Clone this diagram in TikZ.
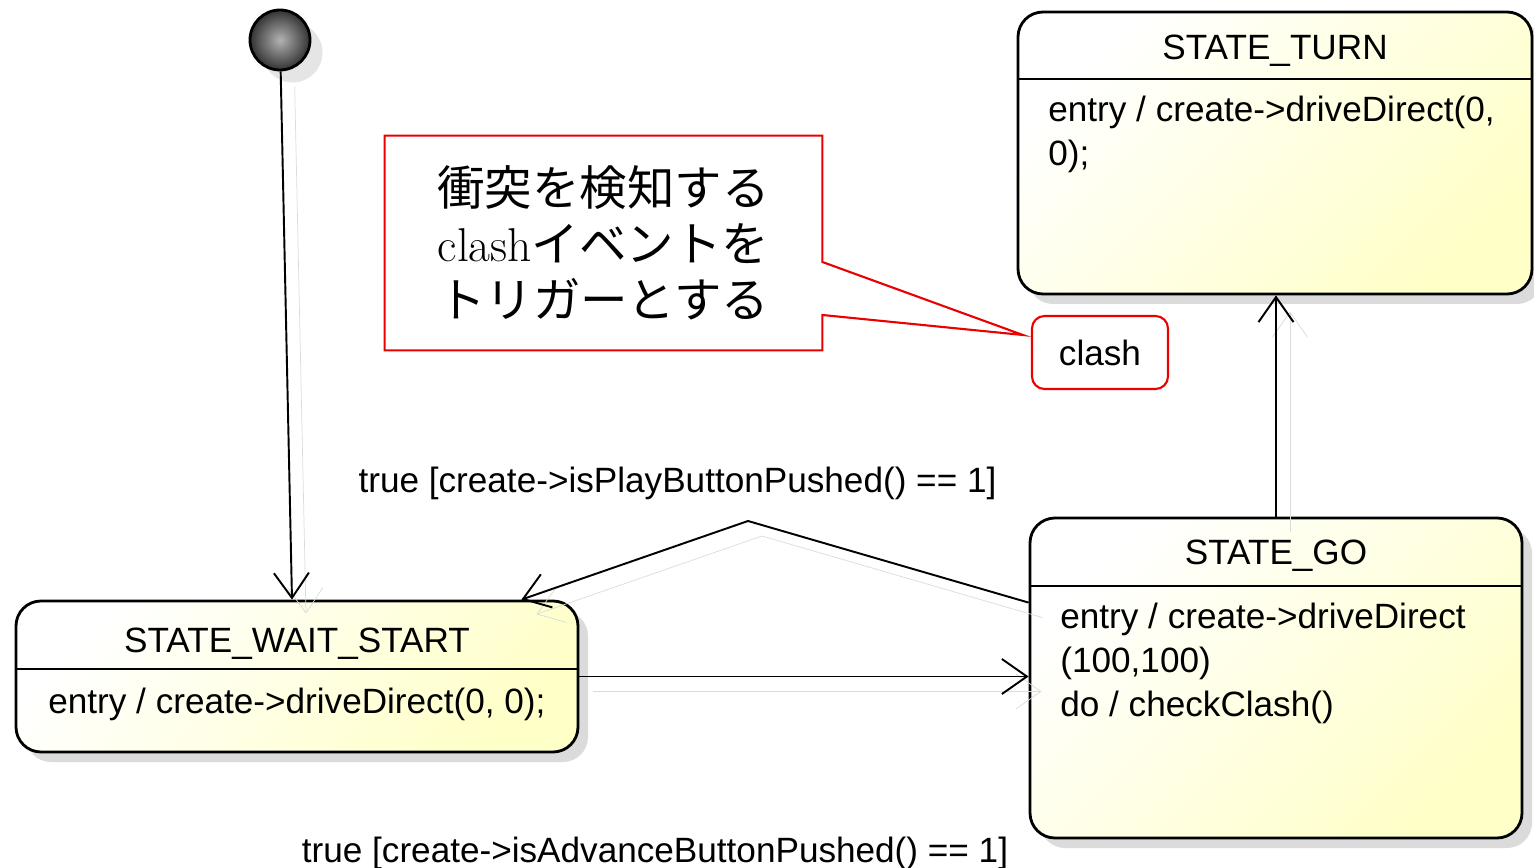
\documentclass[tikz,border=0pt]{standalone}
\usepackage{fontspec}
\setmainfont{Liberation Sans}
\newfontfamily\jpfont{Noto Sans CJK JP}
\newfontfamily\notelatin{Latin Modern Roman}
\usepackage{xcolor}
\usetikzlibrary{positioning,arrows.meta,shadows}
\definecolor{stateyel}{RGB}{255,255,200}
\definecolor{notered}{RGB}{235,0,0}

\begin{document}
\begin{tikzpicture}[
  state/.style={draw, rounded corners=0.5cm, line width=1.6pt, top color=white, bottom color=stateyel, shading angle=45,
    drop shadow={shadow xshift=0.2cm, shadow yshift=-0.2cm, fill=black!14, opacity=1}},
  stitle/.style={font=\fontsize{20}{24}\selectfont, anchor=base, inner sep=0pt},
  sbody/.style={font=\fontsize{20}{25}\selectfont, anchor=base west, inner sep=0pt, align=left},
  initial/.style={circle, draw, line width=1.6pt, minimum size=1.2cm, inner sep=0pt, inner color=black!30, outer color=black!80,
    drop shadow={shadow xshift=0.25cm, shadow yshift=-0.25cm, fill=black!10, opacity=1}},
  trans/.style={line width=1.1pt, -{Straight Barb[length=5mm,width=7mm]},
    preaction={draw=black!14, transform canvas={xshift=0.28cm, yshift=-0.3cm}}},
  tlabel/.style={font=\fontsize{20}{24}\selectfont, anchor=base, inner sep=0pt},
  evbox/.style={draw=notered, rounded corners=0.25cm, line width=1.2pt, minimum width=2.72cm, minimum height=1.46cm,
    font=\fontsize{20}{24}\selectfont},
  notebox/.style={minimum width=8.74cm, minimum height=4.28cm, align=center, inner sep=0pt,
    font=\fontsize{27}{32}\selectfont}
]
  \useasboundingbox (0,0) rectangle (30.68,-17.36);

  % states
  \node[state, minimum width=10.28cm, minimum height=5.64cm] (turn) at (25.5,-3.06) {};
  \node[state, minimum width=9.84cm, minimum height=6.4cm] (go) at (25.52,-13.56) {};
  \node[state, minimum width=11.24cm, minimum height=3.02cm] (wait) at (5.94,-13.53) {};
  \node[initial] (init) at (5.6,-0.8) {};

  % header lines
  \draw[line width=1.3pt] (turn.west |- 0,-1.58) -- (turn.east |- 0,-1.58);
  \draw[line width=1.3pt] (go.west |- 0,-11.72) -- (go.east |- 0,-11.72);
  \draw[line width=1.3pt] (wait.west |- 0,-13.38) -- (wait.east |- 0,-13.38);

  % state texts (base = last line)
  \node[stitle] (turntitle) at (25.5,-1.2) {STATE\_TURN};
  \node[sbody, font=\fontsize{20}{25.5}\selectfont] (turnbody) at (20.96,-3.32) {entry / create->driveDirect(0,\\0);};
  \node[stitle] (gotitle) at (25.52,-11.3) {STATE\_GO};
  \node[sbody, font=\fontsize{20}{24.9}\selectfont] (gobody) at (21.2,-14.32) {entry / create->driveDirect\\(100,100)\\do / checkClash()};
  \node[stitle] (waittitle) at (5.94,-13.06) {STATE\_WAIT\_START};
  \node[sbody] (waitbody) at (0.96,-14.26) {entry / create->driveDirect(0, 0);};

  % transitions
  \draw[trans] (init) -- ([xshift=-0.1cm]wait.north);
  \draw[trans] (wait.east) -- (go.west |- wait.east);
  \coordinate (bend) at (14.96,-10.42);
  \draw[trans] ([yshift=-1.72cm]go.north west) -- (bend) -- ([xshift=-1.16cm]wait.north east);
  \draw[trans] (go.north) -- (go.north |- turn.south);

  % transition labels
  \node[tlabel] (playlbl) at (13.55,-9.86) {true [create->isPlayButtonPushed() == 1]};
  \node[tlabel] (advlbl) at (13.1,-17.24) {true [create->isAdvanceButtonPushed() == 1]};
  \node[evbox] (clash) at (22.0,-7.05) {clash};

  % callout
  \node[notebox] (note) at (12.07,-4.86) {{\jpfont 衝突を検知する}\\{\notelatin clash}{\jpfont イベントを}\\{\jpfont トリガーとする}};
  \draw[notered, line width=1.2pt] (note.north west) -- (note.north east) -- ([yshift=-0.38cm]note.east)
    -- ([shift={(-0.16,0.35)}]clash.west) -- ([yshift=-1.44cm]note.east) -- (note.south east) -- (note.south west) -- cycle;

\end{tikzpicture}
\end{document}
